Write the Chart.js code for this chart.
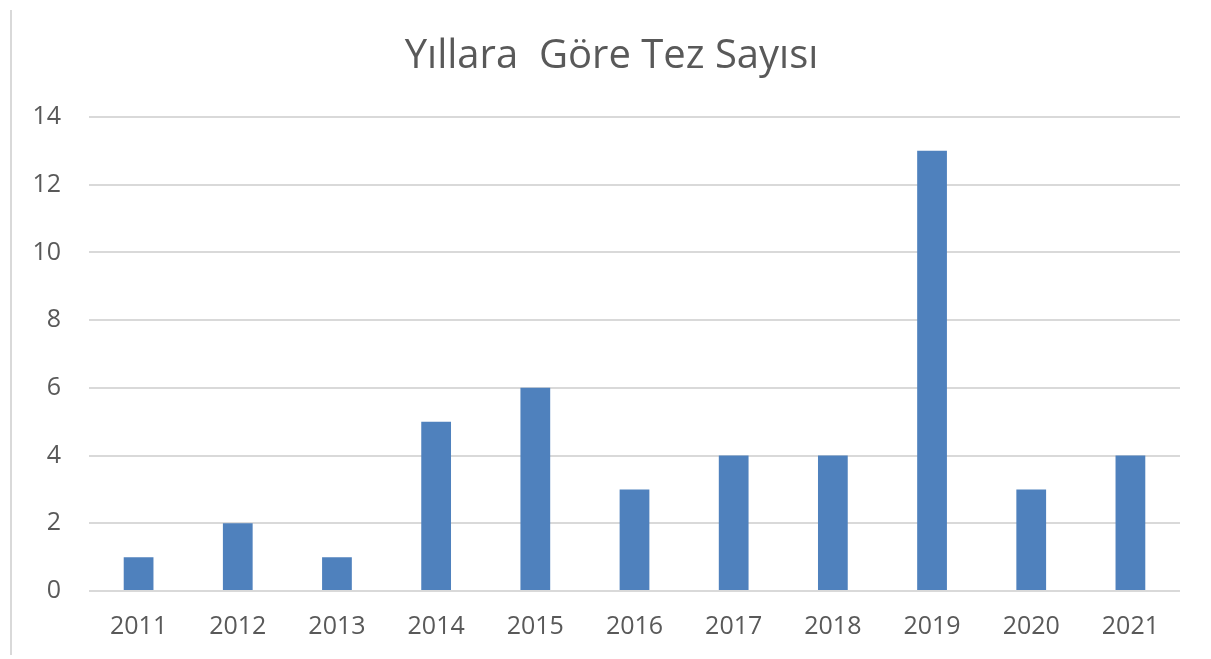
<!DOCTYPE html>
<html>
<head>
<meta charset="utf-8">
<script src="https://cdn.jsdelivr.net/npm/chart.js@4/dist/chart.umd.min.js"></script>
<style>
    html, body { margin: 0; padding: 0; background: #fff; overflow: hidden; }
    #wrap { position: relative; width: 1211px; height: 659px; }
    #frame { position: absolute; left: 10px; top: 10px; bottom: 4px; border-left: 2px solid #d9d9d9; }
</style>
</head>
<body>
<div id="wrap">
    <div id="frame"></div>
    <canvas id="tezChart" width="1211" height="659"></canvas>
</div>
<script>
// Yıllara göre tez sayısı
const years = ['2011', '2012', '2013', '2014', '2015', '2016', '2017', '2018', '2019', '2020', '2021'];
const thesisCounts = [1, 2, 1, 5, 6, 3, 4, 4, 13, 3, 4];
const yTicks = [0, 2, 4, 6, 8, 10, 12, 14];

const textColor = '#595959';
const gridColor = '#d9d9d9';
const fontFamily = "'Open Sans', 'Liberation Sans', sans-serif";

const ctx = document.getElementById('tezChart').getContext('2d');

new Chart(ctx, {
    type: 'bar',
    data: {
        labels: years,
        datasets: [{
            label: 'Tez Sayısı',
            data: thesisCounts,
            backgroundColor: '#4f81bd',
            borderWidth: 0,
            barPercentage: 0.3,
            categoryPercentage: 1.0
        }]
    },
    options: {
        responsive: false,
        animation: false,
        layout: {
            // sol/sağ farkı başlığı ortalamak için
            padding: { left: 43, right: 31, top: 0, bottom: 0 }
        },
        plugins: {
            legend: { display: false },
            tooltip: { enabled: false },
            title: {
                display: true,
                text: 'Yıllara  Göre Tez Sayısı',
                color: textColor,
                font: { family: fontFamily, size: 40, weight: 'normal', lineHeight: 1.2 },
                padding: { top: 33, bottom: 36 }
            }
        },
        scales: {
            x: {
                grid: { display: false, drawTicks: false },
                border: { display: false },
                ticks: {
                    color: textColor,
                    font: { family: fontFamily, size: 25, lineHeight: 1.2 },
                    padding: 21,
                    maxRotation: 0
                },
                afterFit(scale) { scale.height = 68; }
            },
            y: {
                min: 0,
                max: 14,
                grid: { color: gridColor, lineWidth: 2, drawTicks: false },
                border: { display: false },
                afterBuildTicks(scale) {
                    scale.ticks = yTicks.map(v => ({ value: v }));
                },
                ticks: {
                    color: textColor,
                    font: { family: fontFamily, size: 25 },
                    padding: 28
                },
                afterFit(scale) {
                    scale.width = 46;
                    // etiketler eksen kutusunun dışına taşıyor, kırpma olmasın
                    scale._computeLabelArea = () => null;
                }
            }
        }
    }
});
</script>
</body>
</html>
